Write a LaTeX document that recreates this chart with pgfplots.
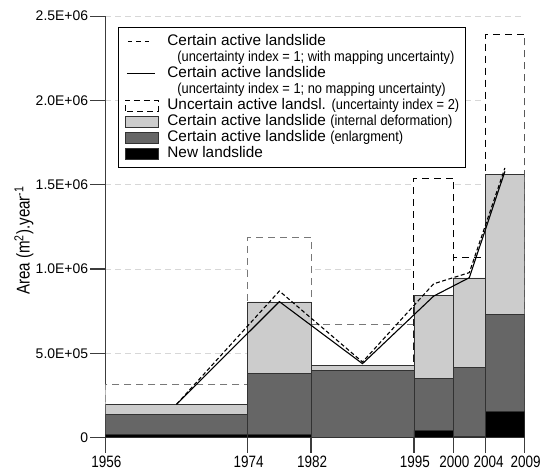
\documentclass[border=0pt]{standalone}
\usepackage{fontspec}
\setmainfont{Liberation Sans}
\newfontfamily\narrowfont{Liberation Sans}[FakeStretch=0.82]
\newfontfamily\smallnarrow{Liberation Sans}[FakeStretch=0.89]
\usepackage{pgfplots}
\pgfplotsset{compat=1.18}
\definecolor{lgray}{RGB}{204,204,204}
\definecolor{dgray}{RGB}{102,102,102}
\definecolor{edge}{RGB}{50,50,50}
\definecolor{gridc}{RGB}{215,215,215}
\definecolor{axisc}{RGB}{60,60,60}
\definecolor{ugray}{RGB}{120,120,120}
\newcommand\smallfont{\smallnarrow\fontsize{14.5}{16}\selectfont}
\newcommand\bigfont{\fontsize{15.4}{17}\selectfont}
\begin{document}
\begin{tikzpicture}
\path[use as bounding box] (-105.3bp,-36.3bp) rectangle (442.7bp,437.7bp);
\begin{axis}[
  at={(0,0)}, anchor=south west,
  scale only axis, width=419.4bp, height=421.5bp,
  xmin=1956, xmax=2009, ymin=0, ymax=2500000,
  axis lines*=left,
  axis line style={axisc, line width=1.2bp},
  tick align=outside,
  major tick length=15bp,
  tick style={axisc, line width=1.2bp},
  xtick={1956,1974,1982,1995,2000,2004,2009},
  xticklabels={1956,1974,1982,1995,2000,{\hspace{5bp}2004},2009},
  ytick={0,500000,1000000,1500000,2000000,2500000},
  yticklabels={0,5.0E+05,1.0E+06,1.5E+06,2.0E+06,2.5E+06},
  scaled y ticks=false,
  xticklabel style={font=\narrowfont\fontsize{16.5}{19}\selectfont, xshift=1bp},
  yticklabel style={font=\fontsize{14}{16}\selectfont, inner xsep=2bp},
  ymajorgrids,
  grid style={gridc, dash pattern=on 6bp off 4bp, line width=0.8bp},
  ylabel={Area (m\textsuperscript{2}).year\textsuperscript{-1}},
  ylabel style={font=\narrowfont\fontsize{18.5}{20}\selectfont, at={(axis description cs:-0.1939,0.468)}, anchor=center},
  legend cell align=left,
  legend style={at={(axis description cs:0.0303,0.9744)}, anchor=north west,
    draw=black, line width=1bp, fill=white, inner xsep=6bp, inner ysep=6bp,
    row sep=0pt, column sep=9bp, font=\bigfont,
    nodes={inner xsep=0pt, inner ysep=0pt, text height=12.5bp, text depth=3.5bp}},
]
% uncertain boxes (total height)
\addplot[forget plot, ybar interval, fill=white, draw=ugray, line width=1bp, dash pattern=on 7bp off 5bp]
  coordinates {(1956,315000) (1974,1190000) (1982,672000) (1995,0)};
\addplot[forget plot, ybar interval, fill=white, draw=black, line width=1bp, dash pattern=on 7bp off 5bp]
  coordinates {(1995,1540000) (2000,1070000) (2004,2393000) (2009,0)};
% internal deformation (cumulative top)
\addplot[forget plot, ybar interval, fill=lgray, draw=edge, line width=0.7bp]
  coordinates {(1956,198000) (1974,805000) (1982,431000) (1995,845000) (2000,948000) (2004,1562000) (2009,0)};
% enlargement (cumulative top)
\addplot[forget plot, ybar interval, fill=dgray, draw=edge, line width=0.7bp]
  coordinates {(1956,138000) (1974,380000) (1982,397000) (1995,352000) (2000,415000) (2004,730000) (2009,0)};
% new landslide
\addplot[forget plot, ybar interval, fill=black, draw=edge, line width=0.7bp]
  coordinates {(1956,18000) (1974,20000) (1982,3000) (1995,43000) (2000,10000) (2004,155000) (2009,0)};
% lines
\addplot[forget plot, black, line width=1.1bp, dash pattern=on 4bp off 2.5bp]
  coordinates {(1965,198000) (1978,870000) (1988.5,449000) (1997.5,913000) (2002,979000) (2006.5,1600000)};
\addplot[forget plot, black, line width=1.1bp]
  coordinates {(1965,198000) (1978,807000) (1988.5,439000) (1997.5,840000) (2002,949000) (2006.5,1580000)};
% legend
\addlegendimage{legend image code/.code={\path[draw=none, fill=none] (0bp,-5.5bp) rectangle (33bp,5.5bp); \draw[black, line width=1.1bp, dash pattern=on 4.5bp off 4bp] (3bp,0bp) -- (28bp,0bp);}}
\addlegendentry{Certain active landslide}
\addlegendimage{empty legend}
\addlegendentry{\hspace{10bp}\smallfont (uncertainty index = 1; with mapping uncertainty)}
\addlegendimage{legend image code/.code={\path[draw=none, fill=none] (0bp,-5.5bp) rectangle (33bp,5.5bp); \draw[black, line width=1.1bp] (2bp,0bp) -- (30bp,0bp);}}
\addlegendentry{Certain active landslide}
\addlegendimage{empty legend}
\addlegendentry{\hspace{10bp}\smallfont (uncertainty index = 1; no mapping uncertainty)}
\addlegendimage{legend image code/.code={\draw[black, line width=0.9bp, dash pattern=on 6bp off 4bp] (0bp,-5.5bp) rectangle (33bp,5.5bp);}}
\addlegendentry{Uncertain active landsl. {\smallfont (uncertainty index = 2)}}
\addlegendimage{legend image code/.code={\draw[fill=lgray, draw=edge, line width=0.8bp] (0bp,-5.5bp) rectangle (33bp,5.5bp);}}
\addlegendentry{Certain active landslide {\smallfont (internal deformation)}}
\addlegendimage{legend image code/.code={\draw[fill=dgray, draw=edge, line width=0.8bp] (0bp,-5.5bp) rectangle (33bp,5.5bp);}}
\addlegendentry{Certain active landslide {\smallfont (enlargment)}}
\addlegendimage{legend image code/.code={\draw[fill=black, draw=edge, line width=0.8bp] (0bp,-5.5bp) rectangle (33bp,5.5bp);}}
\addlegendentry{New landslide}
\end{axis}
\end{tikzpicture}
\end{document}
